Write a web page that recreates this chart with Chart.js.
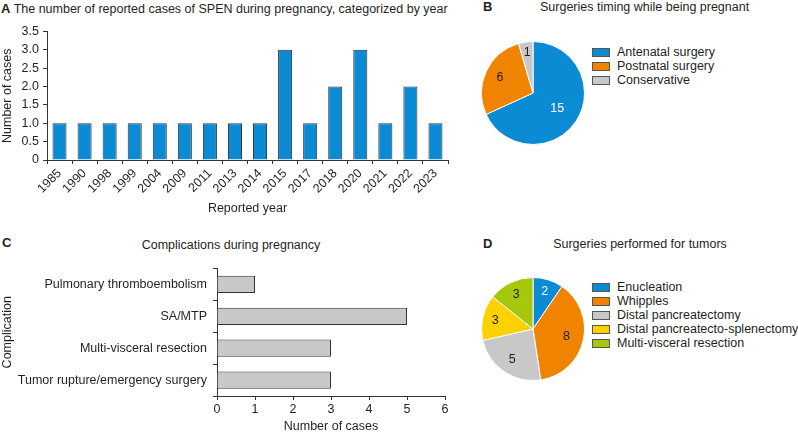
<!DOCTYPE html>
<html>
<head>
<meta charset="utf-8">
<script src="https://cdn.jsdelivr.net/npm/chart.js@4.4.0/dist/chart.umd.min.js"></script>
<style>
  body { margin: 0; width: 798px; height: 434px; position: relative; background: #fff; overflow: hidden;
         font-family: 'Liberation Sans', Arial, sans-serif; color: #231f20; }
  .box { position: absolute; }
  .ttl { position: absolute; font-size: 12.5px; line-height: 14px; white-space: nowrap; }
  .ttl b { font-size: 13px; }
  .lg { position: absolute; font-size: 12.5px; }
  .lg div { height: 14px; display: flex; align-items: center; white-space: nowrap; }
  .lg span { display: inline-block; width: 16px; height: 7px; border: 1px solid #555; margin-right: 7px; }
</style>
</head>
<body>
<div class="ttl" style="left:1px;top:2px"><b>A</b> The number of reported cases of SPEN during pregnancy, categorized by year</div>
<div class="ttl" style="left:483px;top:0px"><b>B</b></div>
<div class="ttl" style="left:540px;top:0px;width:200px;text-align:center">Surgeries timing while being pregnant</div>
<div class="ttl" style="left:2px;top:236px"><b>C</b></div>
<div class="ttl" style="left:131px;top:238px;width:200px;text-align:center">Complications during pregnancy</div>
<div class="ttl" style="left:483px;top:237px"><b>D</b></div>
<div class="ttl" style="left:540px;top:237px;width:200px;text-align:center">Surgeries performed for tumors</div>

<div class="box" style="left:0;top:20px;width:455px;height:200px"><canvas id="yearChart"></canvas></div>
<div class="box" style="left:481px;top:41px;width:104px;height:104px"><canvas id="timingChart"></canvas></div>
<div class="lg" id="timingLegend" style="left:592px;top:45px"></div>
<div class="box" style="left:0;top:255px;width:455px;height:179px"><canvas id="compChart"></canvas></div>
<div class="box" style="left:481px;top:277px;width:104px;height:104px"><canvas id="surgeryChart"></canvas></div>
<div class="lg" id="surgeryLegend" style="left:592px;top:280px"></div>

<script>
const years = ['1985', '1990', '1998', '1999', '2004', '2009', '2011', '2013', '2014',
               '2015', '2017', '2018', '2020', '2021', '2022', '2023'];
const caseCounts = [1, 1, 1, 1, 1, 1, 1, 1, 1, 3, 1, 2, 3, 1, 2, 1];

const timingLabels = ['Antenatal surgery', 'Postnatal surgery', 'Conservative'];
const timingCounts = [15, 6, 1];

const complicationLabels = ['Pulmonary thromboembolism', 'SA/MTP', 'Multi-visceral resection',
                            'Tumor rupture/emergency surgery'];
const complicationCounts = [1, 5, 3, 3];

const surgeryLabels = ['Enucleation', 'Whipples', 'Distal pancreatectomy',
                       'Distal pancreatecto-splenectomy', 'Multi-visceral resection'];
const surgeryCounts = [2, 8, 5, 3, 3];

const BLUE = '#0a8bd4', ORANGE = '#f08300', GREY = '#c8c8c8', YELLOW = '#fdd000', GREEN = '#a6c70c';
const INK = '#231f20', LINE = '#333333';

Chart.defaults.font.family = "'Liberation Sans', Arial, sans-serif";
Chart.defaults.font.size = 12.5;
Chart.defaults.color = INK;
Chart.defaults.animation = false;
Chart.defaults.plugins.legend.display = false;
Chart.defaults.plugins.tooltip.enabled = false;

// numbers inside the pie slices
const sliceLabels = {
  id: 'sliceLabels',
  afterDatasetsDraw(chart, args, opts) {
    const ctx = chart.ctx;
    const data = chart.data.datasets[0].data;
    const total = data.reduce((a, b) => a + b, 0);
    ctx.save();
    ctx.font = "12.5px 'Liberation Sans', Arial, sans-serif";
    ctx.textAlign = 'center';
    ctx.textBaseline = 'middle';
    chart.getDatasetMeta(0).data.forEach((arc, i) => {
      const p = arc.getProps(['x', 'y', 'startAngle', 'endAngle', 'outerRadius'], true);
      const mid = (p.startAngle + p.endAngle) / 2;
      const f = 0.8 - 0.35 * data[i] / total;
      ctx.fillStyle = opts.colors[i];
      ctx.fillText(String(data[i]), p.x + Math.cos(mid) * p.outerRadius * f,
                   p.y + Math.sin(mid) * p.outerRadius * f);
    });
    ctx.restore();
  }
};

function buildLegend(id, labels, colors) {
  const el = document.getElementById(id);
  labels.forEach((l, i) => {
    const row = document.createElement('div');
    const sw = document.createElement('span');
    sw.style.background = colors[i];
    row.appendChild(sw);
    row.appendChild(document.createTextNode(l));
    el.appendChild(row);
  });
}

new Chart(document.getElementById('yearChart'), {
  type: 'bar',
  data: {
    labels: years,
    datasets: [{
      data: caseCounts,
      backgroundColor: BLUE,
      borderColor: LINE,
      borderWidth: 1,
      barPercentage: 0.56,
      categoryPercentage: 1
    }]
  },
  options: {
    responsive: true,
    maintainAspectRatio: false,
    layout: { padding: { top: 7, right: 7, left: 0, bottom: 0 } },
    scales: {
      x: {
        grid: { drawOnChartArea: false, tickLength: 4, color: LINE, offset: true },
        border: { color: LINE },
        ticks: { minRotation: 45, maxRotation: 45, padding: 2, autoSkip: false },
        title: { display: true, text: 'Reported year', padding: { top: 0, bottom: 4 } },
        afterFit: s => { s.height = 60; }
      },
      y: {
        min: 0,
        max: 3.5,
        grid: { drawOnChartArea: false, tickLength: 4, color: LINE },
        border: { color: LINE },
        ticks: { stepSize: 0.5, padding: 4, callback: v => v === 0 ? '0' : v.toFixed(1) },
        title: { display: true, text: 'Number of cases', padding: { top: 0, bottom: 0 } },
        afterFit: s => { s.width = 47; }
      }
    }
  }
});

const timingColors = [BLUE, ORANGE, GREY];
new Chart(document.getElementById('timingChart'), {
  type: 'pie',
  data: {
    labels: timingLabels,
    datasets: [{ data: timingCounts, backgroundColor: timingColors, borderColor: '#fff', borderWidth: 1 }]
  },
  options: {
    responsive: true,
    maintainAspectRatio: false,
    plugins: { sliceLabels: { colors: ['#fff', INK, INK] } }
  },
  plugins: [sliceLabels]
});
buildLegend('timingLegend', timingLabels, timingColors);

new Chart(document.getElementById('compChart'), {
  type: 'bar',
  data: {
    labels: complicationLabels,
    datasets: [{
      data: complicationCounts,
      backgroundColor: GREY,
      borderColor: LINE,
      borderWidth: 1,
      barPercentage: 0.54,
      categoryPercentage: 1
    }]
  },
  options: {
    indexAxis: 'y',
    responsive: true,
    maintainAspectRatio: false,
    layout: { padding: { top: 8, right: 10, left: 0, bottom: 0 } },
    scales: {
      x: {
        min: 0,
        max: 6,
        grid: { drawOnChartArea: false, tickLength: 4, color: LINE },
        border: { color: LINE },
        ticks: { stepSize: 1, padding: 2 },
        title: { display: true, text: 'Number of cases', padding: { top: 0, bottom: 0 } },
        afterFit: s => { s.height = 38; }
      },
      y: {
        grid: { drawOnChartArea: false, tickLength: 4, color: LINE, offset: true },
        border: { color: LINE },
        ticks: { padding: 6, autoSkip: false },
        title: { display: true, text: 'Complication', padding: { top: 0, bottom: 0 } },
        afterFit: s => { s.width = 217; }
      }
    }
  }
});

const surgeryColors = [BLUE, ORANGE, GREY, YELLOW, GREEN];
new Chart(document.getElementById('surgeryChart'), {
  type: 'pie',
  data: {
    labels: surgeryLabels,
    datasets: [{ data: surgeryCounts, backgroundColor: surgeryColors, borderColor: '#fff', borderWidth: 1 }]
  },
  options: {
    responsive: true,
    maintainAspectRatio: false,
    plugins: { sliceLabels: { colors: ['#fff', INK, INK, INK, INK] } }
  },
  plugins: [sliceLabels]
});
buildLegend('surgeryLegend', surgeryLabels, surgeryColors);
</script>
</body>
</html>
